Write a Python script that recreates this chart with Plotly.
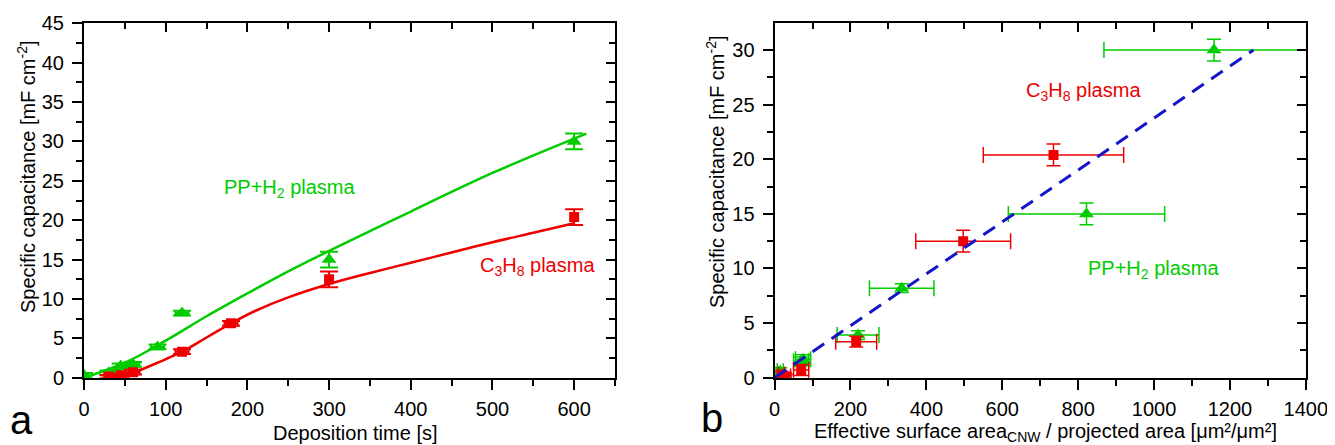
import plotly.graph_objects as go

# ---------------- Panel a data ----------------
pp_t = [0, 30, 40, 45, 60, 90, 120, 300, 600]
pp_c = [0.3, 0.6, 0.8, 1.5, 1.7, 3.9, 8.2, 15.0, 30.0]
pp_cerr = [0.3, 0.3, 0.3, 0.3, 0.3, 0.3, 0.3, 1.0, 1.0]
pp_terr = [5, 5, 5, 5, 8, 8, 8, 0, 0]
c3_t = [30, 45, 60, 120, 180, 300, 600]
c3_c = [0.15, 0.3, 0.7, 3.3, 6.9, 12.5, 20.4]
c3_cerr = [0.2, 0.2, 0.3, 0.3, 0.3, 1.0, 1.0]
c3_terr = [5, 5, 8, 8, 8, 0, 0]

pp_fit_t = [0, 50, 100, 150, 200, 250, 300, 400, 500, 615]
pp_fit_c = [0, 1.9, 4.7, 7.8, 10.7, 13.5, 16.1, 21.1, 26.0, 31.0]
c3_fit_t = [50, 60, 90, 120, 150, 180, 210, 250, 300, 350, 400, 450, 500, 550, 600]
c3_fit_c = [0.2, 0.6, 1.9, 3.3, 5.1, 6.9, 8.5, 10.2, 11.9, 13.3, 14.6, 15.9, 17.2, 18.4, 19.6]

# ---------------- Panel b data ----------------
pp_area = [10, 15, 70, 75, 220, 335, 822, 1158]
pp_area_err = [6, 8, 20, 20, 55, 85, 206, 290]
pp_cap_b = [0.3, 0.6, 1.5, 1.7, 3.9, 8.2, 15.0, 30.0]
pp_cap_b_err = [0.3, 0.3, 0.4, 0.4, 0.4, 0.4, 1.0, 1.0]
c3_area = [18, 32, 70, 215, 497, 735]
c3_area_err = [8, 10, 20, 54, 125, 185]
c3_cap_b = [0.3, 0.1, 0.7, 3.3, 12.5, 20.4]
c3_cap_b_err = [0.3, 0.2, 0.5, 0.5, 1.0, 1.0]
lin_x = [0, 1262]
lin_y = [0, 30]

GREEN = "rgb(0,204,0)"
RED = "rgb(238,0,0)"
BLUE = "rgb(20,20,200)"
FONT = "Liberation Sans, Arial, sans-serif"

fig = go.Figure()

# panel a
fig.add_trace(go.Scatter(x=pp_fit_t, y=pp_fit_c, mode="lines", line=dict(color=GREEN, width=2.5, shape="spline"),
                         xaxis="x", yaxis="y", showlegend=False))
fig.add_trace(go.Scatter(x=c3_fit_t, y=c3_fit_c, mode="lines", line=dict(color=RED, width=2.5, shape="spline"),
                         xaxis="x", yaxis="y", showlegend=False))
fig.add_trace(go.Scatter(x=pp_t, y=pp_c, mode="markers",
                         marker=dict(symbol="triangle-up", size=13, color=GREEN, line=dict(width=0)),
                         error_y=dict(type="data", array=pp_cerr, color=GREEN, thickness=2, width=9),
                         error_x=dict(type="data", array=pp_terr, color=GREEN, thickness=2, width=3),
                         xaxis="x", yaxis="y", showlegend=False))
fig.add_trace(go.Scatter(x=c3_t, y=c3_c, mode="markers",
                         marker=dict(symbol="square", size=10, color=RED, line=dict(width=0)),
                         error_y=dict(type="data", array=c3_cerr, color=RED, thickness=2, width=9),
                         error_x=dict(type="data", array=c3_terr, color=RED, thickness=2, width=3),
                         xaxis="x", yaxis="y", showlegend=False))

# panel b
fig.add_trace(go.Scatter(x=pp_area, y=pp_cap_b, mode="markers",
                         marker=dict(symbol="triangle-up", size=13, color=GREEN, line=dict(width=0)),
                         error_y=dict(type="data", array=pp_cap_b_err, color=GREEN, thickness=1.5, width=7),
                         error_x=dict(type="data", array=pp_area_err, color=GREEN, thickness=1.5, width=8),
                         xaxis="x2", yaxis="y2", showlegend=False))
fig.add_trace(go.Scatter(x=c3_area, y=c3_cap_b, mode="markers",
                         marker=dict(symbol="square", size=10, color=RED, line=dict(width=0)),
                         error_y=dict(type="data", array=c3_cap_b_err, color=RED, thickness=1.5, width=7),
                         error_x=dict(type="data", array=c3_area_err, color=RED, thickness=1.5, width=8),
                         xaxis="x2", yaxis="y2", showlegend=False))
fig.add_trace(go.Scatter(x=lin_x, y=lin_y, mode="lines",
                         line=dict(color=BLUE, width=3, dash="14px,9px"),
                         xaxis="x2", yaxis="y2", showlegend=False))

# dummy traces for mirrored inward-tick axes
fig.add_trace(go.Scatter(x=[], y=[], xaxis="x3", yaxis="y3", showlegend=False))
fig.add_trace(go.Scatter(x=[], y=[], xaxis="x4", yaxis="y4", showlegend=False))

W, H = 1335, 445
OX, OY = 8, 8  # page body margin offset of the figure


def px(xp):
    return (xp - OX) / W


def py(yp):
    return 1 - (yp - OY) / H


ydom = [py(377.7), py(23.3)]
xdom_a = [px(84), px(615)]
xdom_b = [px(774.6), px(1305.8)]
xr_a = [0, 650]
yr_a = [0, 45]
xr_b = [0, 1400]
yr_b = [0, 32.45]

tickfont = dict(family=FONT, size=20, color="black")


def main_axis(domain, rng, dtick, minor, anchor, standoff):
    return dict(domain=domain, range=rng, anchor=anchor, dtick=dtick, tick0=0,
                ticks="outside", ticklen=10, tickwidth=2, tickcolor="black",
                showline=True, linewidth=2, linecolor="black", automargin=False,
                showgrid=False, zeroline=False, tickfont=tickfont, ticklabelstandoff=standoff,
                minor=dict(dtick=minor, tick0=0, ticks="outside", ticklen=6, tickwidth=2,
                           tickcolor="black", showgrid=False))


def mirror_axis(rng, dtick, minor, overlay, anchor, side):
    return dict(range=rng, overlaying=overlay, anchor=anchor, side=side, dtick=dtick, tick0=0,
                ticks="inside", ticklen=9, tickwidth=2, tickcolor="black", automargin=False,
                showline=True, linewidth=2, linecolor="black", showticklabels=False,
                showgrid=False, zeroline=False,
                minor=dict(dtick=minor, tick0=0, ticks="inside", ticklen=6, tickwidth=2,
                           tickcolor="black", showgrid=False))


fig.update_layout(
    width=W, height=H, autosize=False,
    margin=dict(l=0, r=0, t=0, b=0, pad=0),
    paper_bgcolor="white", plot_bgcolor="white",
    font=dict(family=FONT, size=20, color="black"),
    xaxis=main_axis(xdom_a, xr_a, 100, 50, "y", 2),
    yaxis=main_axis(ydom, yr_a, 5, 2.5, "x", 4),
    xaxis2=main_axis(xdom_b, xr_b, 200, 100, "y2", 2),
    yaxis2=main_axis(ydom, yr_b, 5, 2.5, "x2", 4),
    xaxis3=mirror_axis(xr_a, 100, 50, "x", "y", "top"),
    yaxis3=mirror_axis(yr_a, 5, 2.5, "y", "x", "right"),
    xaxis4=mirror_axis(xr_b, 200, 100, "x2", "y2", "top"),
    yaxis4=mirror_axis(yr_b, 5, 2.5, "y2", "x2", "right"),
)


def label(x, y, text, color="black", size=20, xref="paper", yref="paper", angle=0):
    return dict(x=x, y=y, xref=xref, yref=yref, text=text, showarrow=False,
                xanchor="center", yanchor="middle", textangle=angle,
                font=dict(family=FONT, size=size, color=color))


ann = [
    # in-plot labels
    label(252, 24.0, "PP+H<sub>2</sub> plasma", GREEN, xref="x", yref="y"),
    label(555, 14.06, "C<sub>3</sub>H<sub>8</sub> plasma", RED, xref="x", yref="y"),
    label(815, 26.2, "C<sub>3</sub>H<sub>8</sub> plasma", RED, xref="x2", yref="y2"),
    label(1000, 9.93, "PP+H<sub>2</sub> plasma", GREEN, xref="x2", yref="y2"),
    # axis titles
    label(px(355), py(433), "Deposition time [s]"),
    label(px(1045), py(432.5),
          "Effective surface area<sub>CNW</sub> / projected area [μm²/μm²]"),
    label(px(27), py(177), "Specific capacitance [mF cm<sup>-2</sup>]", angle=-90),
    label(px(716), py(172), "Specific capacitance [mF cm<sup>-2</sup>]", angle=-90),
    # panel letters
    label(px(21), py(420), "a", size=40),
    label(px(712), py(418), "b", size=40),
]
fig.update_layout(annotations=ann)

fig.write_html("out.html")
